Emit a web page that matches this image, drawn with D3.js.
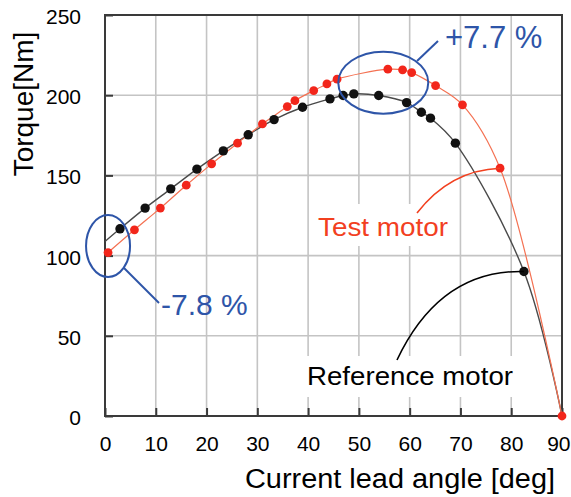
<!DOCTYPE html>
<html>
<head>
<meta charset="utf-8">
<script src="https://cdn.jsdelivr.net/npm/d3@7"></script>
<style>
  html, body { margin: 0; padding: 0; background: #fff; }
  svg { display: block; font-family: "Liberation Sans", Arial, Helvetica, sans-serif; }
</style>
</head>
<body>
<svg id="chart" width="571" height="497"></svg>
<script>
// Torque vs. current lead angle, reference motor and test motor

// Reference motor measurements
const refAngle  = [2.95, 7.9, 12.95, 18.1, 23.3, 28.2, 33.3, 38.9, 44.3, 46.9, 49.0, 53.9, 59.4, 62.3, 64.1, 69.0, 82.5];
const refTorque = [116.7, 129.6, 141.6, 153.9, 165.3, 175.3, 184.8, 192.5, 197.7, 199.8, 200.8, 199.8, 195.4, 189.4, 185.7, 170.1, 90.1];
// Ends of the fitted reference curve
const refFitStart = [0, 108.8];
const refFitEnd   = [90, 0];

// Test motor measurements
const testAngle  = [0.6, 5.8, 10.9, 16.0, 21.0, 26.1, 31.0, 35.9, 37.4, 41.1, 43.7, 45.7, 55.7, 58.6, 60.4, 65.1, 70.4, 77.8, 90];
const testTorque = [101.9, 116.1, 129.6, 143.9, 157.2, 170.1, 182.1, 192.9, 196.6, 202.9, 207.0, 210.0, 216.2, 215.8, 214.1, 206.0, 194.0, 154.5, 0];

// Axis ticks
const xTicks = [0, 10, 20, 30, 40, 50, 60, 70, 80, 90];
const yTicks = [0, 50, 100, 150, 200, 250];

// Highlighted regions and their percentage labels
const lowDiff  = { angle: 0.6, torque: 106, label: "-7.8 %" };
const peakDiff = { angle: 54.8, torque: 207.8, label: "+7.7 %" };

const svg = d3.select("#chart");
const plotL = 105, plotR = 562, plotT = 15, plotB = 416;

const x = d3.scaleLinear().domain([0, 90]).range([plotL, plotR]);
const y = d3.scaleLinear().domain([0, 250]).range([plotB, plotT]);

const gridColor = "#c4c4c4";
const frameColor = "#3a3a3a";
const blue = "#2e55a8";
const annotRed = "#f2401f";

// Grid
const grid = svg.append("g");
grid.selectAll("line.v").data(xTicks.slice(1, -1)).join("line")
  .attr("x1", d => x(d)).attr("x2", d => x(d))
  .attr("y1", plotT).attr("y2", plotB)
  .attr("stroke", gridColor).attr("stroke-width", 1.6);
grid.selectAll("line.h").data(yTicks.slice(1, -1)).join("line")
  .attr("x1", plotL).attr("x2", plotR)
  .attr("y1", d => y(d)).attr("y2", d => y(d))
  .attr("stroke", gridColor).attr("stroke-width", 1.6);

// White label backgrounds
svg.append("rect").attr("x", 314).attr("y", 204).attr("width", 138).attr("height", 42).attr("fill", "#fff");
svg.append("rect").attr("x", 306).attr("y", 356).attr("width", 208).attr("height", 41).attr("fill", "#fff");

// Axes with inward ticks
const xAxis = d3.axisBottom(x).tickValues(xTicks).tickSizeInner(-8).tickSizeOuter(0).tickPadding(20);
const yAxis = d3.axisLeft(y).tickValues(yTicks).tickSizeInner(-8).tickSizeOuter(0).tickPadding(24);

const gx = svg.append("g").attr("transform", `translate(0,${plotB})`).call(xAxis);
const gy = svg.append("g").attr("transform", `translate(${plotL},0)`).call(yAxis);
[gx, gy].forEach(g => {
  g.select(".domain").remove();
  g.selectAll(".tick line").attr("stroke", frameColor).attr("stroke-width", 2);
  g.selectAll(".tick text").attr("fill", "#000").attr("font-size", 21)
    .attr("font-family", "Liberation Sans, Arial, sans-serif");
});
gy.selectAll(".tick text").attr("dy", "0.4em");
// keep the last x label inside the page edge
gx.selectAll(".tick text").filter(d => d === 90).attr("text-anchor", "end").attr("dx", 8);

// Frame
svg.append("rect")
  .attr("x", plotL).attr("y", plotT).attr("width", plotR - plotL).attr("height", plotB - plotT)
  .attr("fill", "none").attr("stroke", frameColor).attr("stroke-width", 2);

// Fitted curves
const line = d3.line().x(d => x(d[0])).y(d => y(d[1])).curve(d3.curveCatmullRom.alpha(0.5));

const refPts = refAngle.map((a, i) => [a, refTorque[i]]);
const testPts = testAngle.map((a, i) => [a, testTorque[i]]);

svg.append("path")
  .datum([refFitStart, ...refPts, refFitEnd])
  .attr("d", line).attr("fill", "none")
  .attr("stroke", "#4a4a4a").attr("stroke-width", 1.4);

svg.append("path")
  .datum(testPts)
  .attr("d", line).attr("fill", "none")
  .attr("stroke", "#f47152").attr("stroke-width", 1.2);

// Measurement points
svg.append("g").selectAll("circle").data(refPts).join("circle")
  .attr("cx", d => x(d[0])).attr("cy", d => y(d[1])).attr("r", 4.7)
  .attr("fill", "#111");

svg.append("g").selectAll("circle").data(testPts).join("circle")
  .attr("cx", d => x(d[0])).attr("cy", d => y(d[1])).attr("r", 4.4)
  .attr("fill", "#f2261b");

// Leader lines to the labelled points
const testLast = testPts[testPts.length - 2];
const refLast = refPts[refPts.length - 1];
const tx = x(testLast[0]), ty = y(testLast[1]);
svg.append("path")
  .attr("d", `M${tx},${ty} Q${tx - 50},${ty + 2} 417,213`)
  .attr("fill", "none").attr("stroke", annotRed).attr("stroke-width", 1.6);
const rx = x(refLast[0]), ry = y(refLast[1]);
svg.append("path")
  .attr("d", `M${rx},${ry} Q${rx - 84},${ry - 2} 397,360`)
  .attr("fill", "none").attr("stroke", "#000").attr("stroke-width", 1.6);

svg.append("text").attr("x", 318).attr("y", 236)
  .attr("font-size", 25).attr("fill", annotRed)
  .attr("textLength", 130).attr("lengthAdjust", "spacingAndGlyphs")
  .text("Test motor");
svg.append("text").attr("x", 307).attr("y", 385)
  .attr("font-size", 25).attr("fill", "#000")
  .attr("textLength", 206).attr("lengthAdjust", "spacingAndGlyphs")
  .text("Reference motor");

// Highlight ellipses and percentage labels
svg.append("ellipse")
  .attr("cx", x(lowDiff.angle)).attr("cy", y(lowDiff.torque)).attr("rx", 22).attr("ry", 31)
  .attr("fill", "none").attr("stroke", blue).attr("stroke-width", 2);
svg.append("line").attr("x1", 124).attr("y1", 268).attr("x2", 159).attr("y2", 303)
  .attr("stroke", blue).attr("stroke-width", 2);
svg.append("text").attr("x", 161).attr("y", 315)
  .attr("font-size", 30).attr("fill", blue).text(lowDiff.label);

svg.append("ellipse")
  .attr("cx", x(peakDiff.angle)).attr("cy", y(peakDiff.torque)).attr("rx", 45).attr("ry", 31)
  .attr("fill", "none").attr("stroke", blue).attr("stroke-width", 2);
svg.append("line").attr("x1", 417).attr("y1", 61).attr("x2", 438).attr("y2", 41)
  .attr("stroke", blue).attr("stroke-width", 2);
svg.append("text").attr("x", 445).attr("y", 48)
  .attr("font-size", 31).attr("fill", blue).text(peakDiff.label);

// Axis titles
svg.append("text").attr("x", 245).attr("y", 488)
  .attr("font-size", 27).attr("fill", "#000")
  .attr("textLength", 310).attr("lengthAdjust", "spacingAndGlyphs")
  .text("Current lead angle [deg]");
svg.append("text")
  .attr("transform", "translate(33,104) rotate(-90)")
  .attr("text-anchor", "middle").attr("font-size", 28).attr("fill", "#000")
  .text("Torque[Nm]");
</script>
</body>
</html>
